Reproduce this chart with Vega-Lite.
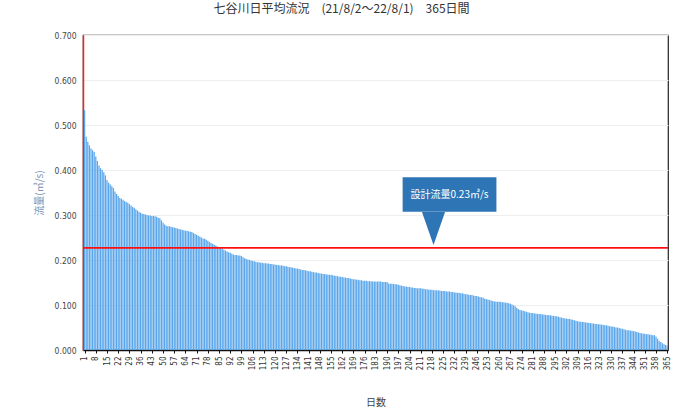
{
"$schema": "https://vega.github.io/schema/vega-lite/v6.json",
"width": 585,
"height": 315,
"autosize": "none",
"padding": {"left": 83, "top": 35, "right": 16, "bottom": 64},
"background": "white",
"config": {"view": {"stroke": "#222222", "strokeWidth": 1.2}},
"title": {"text": "七谷川日平均流況　(21/8/2～22/8/1)　365日間", "font": "Noto Sans CJK JP", "fontSize": 12, "fontWeight": "normal", "color": "#333333", "offset": 15, "dx": -34, "anchor": "middle"},
"datasets": {
"flow": [
{"day":1,"flow":0.533},{"day":2,"flow":0.474},{"day":3,"flow":0.463},{"day":4,"flow":0.455},{"day":5,"flow":0.448},{"day":6,"flow":0.444},{"day":7,"flow":0.440},{"day":8,"flow":0.430},{"day":9,"flow":0.420},{"day":10,"flow":0.410},
{"day":11,"flow":0.404},{"day":12,"flow":0.400},{"day":13,"flow":0.395},{"day":14,"flow":0.388},{"day":15,"flow":0.378},{"day":16,"flow":0.372},{"day":17,"flow":0.368},{"day":18,"flow":0.364},{"day":19,"flow":0.360},{"day":20,"flow":0.352},
{"day":21,"flow":0.347},{"day":22,"flow":0.342},{"day":23,"flow":0.338},{"day":24,"flow":0.336},{"day":25,"flow":0.334},{"day":26,"flow":0.331},{"day":27,"flow":0.329},{"day":28,"flow":0.327},{"day":29,"flow":0.324},{"day":30,"flow":0.321},
{"day":31,"flow":0.318},{"day":32,"flow":0.316},{"day":33,"flow":0.313},{"day":34,"flow":0.310},{"day":35,"flow":0.307},{"day":36,"flow":0.305},{"day":37,"flow":0.303},{"day":38,"flow":0.302},{"day":39,"flow":0.301},{"day":40,"flow":0.300},
{"day":41,"flow":0.299},{"day":42,"flow":0.299},{"day":43,"flow":0.298},{"day":44,"flow":0.298},{"day":45,"flow":0.297},{"day":46,"flow":0.296},{"day":47,"flow":0.294},{"day":48,"flow":0.293},{"day":49,"flow":0.288},{"day":50,"flow":0.283},
{"day":51,"flow":0.279},{"day":52,"flow":0.276},{"day":53,"flow":0.275},{"day":54,"flow":0.275},{"day":55,"flow":0.274},{"day":56,"flow":0.273},{"day":57,"flow":0.272},{"day":58,"flow":0.271},{"day":59,"flow":0.270},{"day":60,"flow":0.269},
{"day":61,"flow":0.268},{"day":62,"flow":0.267},{"day":63,"flow":0.266},{"day":64,"flow":0.265},{"day":65,"flow":0.265},{"day":66,"flow":0.264},{"day":67,"flow":0.263},{"day":68,"flow":0.262},{"day":69,"flow":0.260},{"day":70,"flow":0.258},
{"day":71,"flow":0.256},{"day":72,"flow":0.254},{"day":73,"flow":0.252},{"day":74,"flow":0.250},{"day":75,"flow":0.248},{"day":76,"flow":0.247},{"day":77,"flow":0.245},{"day":78,"flow":0.243},{"day":79,"flow":0.240},{"day":80,"flow":0.238},
{"day":81,"flow":0.236},{"day":82,"flow":0.234},{"day":83,"flow":0.232},{"day":84,"flow":0.230},{"day":85,"flow":0.229},{"day":86,"flow":0.227},{"day":87,"flow":0.225},{"day":88,"flow":0.223},{"day":89,"flow":0.221},{"day":90,"flow":0.219},
{"day":91,"flow":0.217},{"day":92,"flow":0.216},{"day":93,"flow":0.214},{"day":94,"flow":0.212},{"day":95,"flow":0.211},{"day":96,"flow":0.211},{"day":97,"flow":0.210},{"day":98,"flow":0.210},{"day":99,"flow":0.209},{"day":100,"flow":0.206},
{"day":101,"flow":0.204},{"day":102,"flow":0.202},{"day":103,"flow":0.201},{"day":104,"flow":0.200},{"day":105,"flow":0.199},{"day":106,"flow":0.198},{"day":107,"flow":0.197},{"day":108,"flow":0.196},{"day":109,"flow":0.195},{"day":110,"flow":0.195},
{"day":111,"flow":0.194},{"day":112,"flow":0.194},{"day":113,"flow":0.193},{"day":114,"flow":0.193},{"day":115,"flow":0.192},{"day":116,"flow":0.192},{"day":117,"flow":0.191},{"day":118,"flow":0.191},{"day":119,"flow":0.190},{"day":120,"flow":0.190},
{"day":121,"flow":0.189},{"day":122,"flow":0.189},{"day":123,"flow":0.188},{"day":124,"flow":0.188},{"day":125,"flow":0.187},{"day":126,"flow":0.186},{"day":127,"flow":0.186},{"day":128,"flow":0.185},{"day":129,"flow":0.184},{"day":130,"flow":0.184},
{"day":131,"flow":0.183},{"day":132,"flow":0.182},{"day":133,"flow":0.181},{"day":134,"flow":0.181},{"day":135,"flow":0.180},{"day":136,"flow":0.179},{"day":137,"flow":0.178},{"day":138,"flow":0.178},{"day":139,"flow":0.177},{"day":140,"flow":0.176},
{"day":141,"flow":0.175},{"day":142,"flow":0.175},{"day":143,"flow":0.174},{"day":144,"flow":0.173},{"day":145,"flow":0.172},{"day":146,"flow":0.172},{"day":147,"flow":0.171},{"day":148,"flow":0.170},{"day":149,"flow":0.170},{"day":150,"flow":0.169},
{"day":151,"flow":0.169},{"day":152,"flow":0.168},{"day":153,"flow":0.168},{"day":154,"flow":0.167},{"day":155,"flow":0.167},{"day":156,"flow":0.166},{"day":157,"flow":0.165},{"day":158,"flow":0.165},{"day":159,"flow":0.164},{"day":160,"flow":0.163},
{"day":161,"flow":0.163},{"day":162,"flow":0.162},{"day":163,"flow":0.161},{"day":164,"flow":0.161},{"day":165,"flow":0.160},{"day":166,"flow":0.160},{"day":167,"flow":0.159},{"day":168,"flow":0.158},{"day":169,"flow":0.157},{"day":170,"flow":0.157},
{"day":171,"flow":0.156},{"day":172,"flow":0.156},{"day":173,"flow":0.155},{"day":174,"flow":0.155},{"day":175,"flow":0.154},{"day":176,"flow":0.154},{"day":177,"flow":0.154},{"day":178,"flow":0.153},{"day":179,"flow":0.153},{"day":180,"flow":0.153},
{"day":181,"flow":0.152},{"day":182,"flow":0.152},{"day":183,"flow":0.152},{"day":184,"flow":0.152},{"day":185,"flow":0.152},{"day":186,"flow":0.152},{"day":187,"flow":0.151},{"day":188,"flow":0.151},{"day":189,"flow":0.151},{"day":190,"flow":0.151},
{"day":191,"flow":0.148},{"day":192,"flow":0.147},{"day":193,"flow":0.147},{"day":194,"flow":0.147},{"day":195,"flow":0.146},{"day":196,"flow":0.146},{"day":197,"flow":0.145},{"day":198,"flow":0.144},{"day":199,"flow":0.143},{"day":200,"flow":0.142},
{"day":201,"flow":0.141},{"day":202,"flow":0.141},{"day":203,"flow":0.140},{"day":204,"flow":0.140},{"day":205,"flow":0.139},{"day":206,"flow":0.139},{"day":207,"flow":0.138},{"day":208,"flow":0.138},{"day":209,"flow":0.137},{"day":210,"flow":0.137},
{"day":211,"flow":0.137},{"day":212,"flow":0.136},{"day":213,"flow":0.136},{"day":214,"flow":0.135},{"day":215,"flow":0.135},{"day":216,"flow":0.134},{"day":217,"flow":0.134},{"day":218,"flow":0.134},{"day":219,"flow":0.133},{"day":220,"flow":0.133},
{"day":221,"flow":0.133},{"day":222,"flow":0.132},{"day":223,"flow":0.132},{"day":224,"flow":0.131},{"day":225,"flow":0.131},{"day":226,"flow":0.131},{"day":227,"flow":0.130},{"day":228,"flow":0.130},{"day":229,"flow":0.130},{"day":230,"flow":0.129},
{"day":231,"flow":0.129},{"day":232,"flow":0.128},{"day":233,"flow":0.128},{"day":234,"flow":0.127},{"day":235,"flow":0.127},{"day":236,"flow":0.126},{"day":237,"flow":0.126},{"day":238,"flow":0.125},{"day":239,"flow":0.124},{"day":240,"flow":0.124},
{"day":241,"flow":0.123},{"day":242,"flow":0.122},{"day":243,"flow":0.122},{"day":244,"flow":0.121},{"day":245,"flow":0.120},{"day":246,"flow":0.120},{"day":247,"flow":0.119},{"day":248,"flow":0.118},{"day":249,"flow":0.117},{"day":250,"flow":0.116},
{"day":251,"flow":0.114},{"day":252,"flow":0.113},{"day":253,"flow":0.112},{"day":254,"flow":0.111},{"day":255,"flow":0.110},{"day":256,"flow":0.109},{"day":257,"flow":0.108},{"day":258,"flow":0.108},{"day":259,"flow":0.107},{"day":260,"flow":0.107},
{"day":261,"flow":0.107},{"day":262,"flow":0.106},{"day":263,"flow":0.106},{"day":264,"flow":0.105},{"day":265,"flow":0.105},{"day":266,"flow":0.104},{"day":267,"flow":0.103},{"day":268,"flow":0.101},{"day":269,"flow":0.099},{"day":270,"flow":0.097},
{"day":271,"flow":0.094},{"day":272,"flow":0.091},{"day":273,"flow":0.089},{"day":274,"flow":0.088},{"day":275,"flow":0.087},{"day":276,"flow":0.086},{"day":277,"flow":0.085},{"day":278,"flow":0.084},{"day":279,"flow":0.083},{"day":280,"flow":0.082},
{"day":281,"flow":0.082},{"day":282,"flow":0.081},{"day":283,"flow":0.081},{"day":284,"flow":0.080},{"day":285,"flow":0.080},{"day":286,"flow":0.080},{"day":287,"flow":0.079},{"day":288,"flow":0.079},{"day":289,"flow":0.078},{"day":290,"flow":0.078},
{"day":291,"flow":0.077},{"day":292,"flow":0.077},{"day":293,"flow":0.076},{"day":294,"flow":0.076},{"day":295,"flow":0.075},{"day":296,"flow":0.075},{"day":297,"flow":0.074},{"day":298,"flow":0.073},{"day":299,"flow":0.072},{"day":300,"flow":0.071},
{"day":301,"flow":0.070},{"day":302,"flow":0.070},{"day":303,"flow":0.069},{"day":304,"flow":0.069},{"day":305,"flow":0.068},{"day":306,"flow":0.067},{"day":307,"flow":0.066},{"day":308,"flow":0.065},{"day":309,"flow":0.064},{"day":310,"flow":0.063},
{"day":311,"flow":0.063},{"day":312,"flow":0.062},{"day":313,"flow":0.062},{"day":314,"flow":0.061},{"day":315,"flow":0.061},{"day":316,"flow":0.060},{"day":317,"flow":0.060},{"day":318,"flow":0.059},{"day":319,"flow":0.059},{"day":320,"flow":0.058},
{"day":321,"flow":0.058},{"day":322,"flow":0.057},{"day":323,"flow":0.057},{"day":324,"flow":0.056},{"day":325,"flow":0.056},{"day":326,"flow":0.055},{"day":327,"flow":0.055},{"day":328,"flow":0.054},{"day":329,"flow":0.053},{"day":330,"flow":0.052},
{"day":331,"flow":0.052},{"day":332,"flow":0.051},{"day":333,"flow":0.050},{"day":334,"flow":0.050},{"day":335,"flow":0.049},{"day":336,"flow":0.048},{"day":337,"flow":0.047},{"day":338,"flow":0.046},{"day":339,"flow":0.045},{"day":340,"flow":0.044},
{"day":341,"flow":0.044},{"day":342,"flow":0.043},{"day":343,"flow":0.043},{"day":344,"flow":0.042},{"day":345,"flow":0.041},{"day":346,"flow":0.040},{"day":347,"flow":0.039},{"day":348,"flow":0.038},{"day":349,"flow":0.037},{"day":350,"flow":0.036},
{"day":351,"flow":0.036},{"day":352,"flow":0.035},{"day":353,"flow":0.035},{"day":354,"flow":0.034},{"day":355,"flow":0.034},{"day":356,"flow":0.033},{"day":357,"flow":0.033},{"day":358,"flow":0.030},{"day":359,"flow":0.025},{"day":360,"flow":0.020},
{"day":361,"flow":0.018},{"day":362,"flow":0.015},{"day":363,"flow":0.013},{"day":364,"flow":0.011},{"day":365,"flow":0.010}
]
},
"layer": [
{
"data": {"name": "flow"},
"mark": {"type": "bar", "size": 1.25, "color": "#5aa6ea"},
"encoding": {
"x": {"field": "day", "type": "quantitative",
"scale": {"domain": [0, 365.5], "nice": false, "zero": false, "padding": 0},
"axis": {"values": [1,8,15,22,29,36,43,50,57,64,71,78,85,92,99,106,113,120,127,134,141,148,155,162,169,176,183,190,197,204,211,218,225,232,239,246,253,260,267,274,281,288,295,302,309,316,323,330,337,344,351,358,365],
"tickCount": 400,
"labelAngle": -90, "labelFontSize": 8, "labelFont": "DejaVu Sans Condensed, Liberation Sans, sans-serif", "labelColor": "#333333", "labelPadding": 3, "labelOverlap": false, "labelBound": false, "labelFlush": false,
"grid": false, "domainColor": "#111111", "domainWidth": 1.5, "tickColor": "#111111", "tickSize": 3,
"title": "日数", "titleFont": "Noto Sans CJK JP", "titleFontSize": 10, "titleFontWeight": "normal", "titleColor": "#444444", "titlePadding": 28}},
"y": {"field": "flow", "type": "quantitative",
"scale": {"domain": [0, 0.7], "nice": false},
"axis": {"values": [0,0.1,0.2,0.3,0.4,0.5,0.6,0.7], "format": ".3f",
"labelFontSize": 8.5, "labelFont": "DejaVu Sans Condensed, Liberation Sans, sans-serif", "labelColor": "#444444", "ticks": false, "labelPadding": 7,
"domainColor": "#ff2020", "domainWidth": 1.5, "grid": true, "gridColor": "#eeeeee",
"title": "流量(㎥/s)", "titleFont": "Noto Sans CJK JP", "titleFontSize": 10, "titleFontWeight": "normal", "titleColor": "#7a93b3", "titlePadding": 10}}
}
},
{
"data": {"values": [{"flow": 0.227}]},
"mark": {"type": "rule", "color": "#ff1010", "strokeWidth": 1.6},
"encoding": {"y": {"field": "flow", "type": "quantitative"}}
},
{
"data": {"values": [{}]},
"mark": {"type": "rect", "color": "#2e75b6"},
"encoding": {
"x": {"datum": 199.7, "type": "quantitative"},
"x2": {"datum": 258.3},
"y": {"datum": 0.384, "type": "quantitative"},
"y2": {"datum": 0.307}
}
},
{
"data": {"values": [{}]},
"mark": {"type": "point", "shape": "M-0.7,-1L0.7,-1L0,1Z", "filled": true, "color": "#2e75b6", "size": 1089, "opacity": 1, "strokeWidth": 0},
"encoding": {
"x": {"datum": 219, "type": "quantitative"},
"y": {"datum": 0.27, "type": "quantitative"}
}
},
{
"data": {"values": [{}]},
"mark": {"type": "text", "color": "white", "fontSize": 10, "font": "Noto Sans CJK JP"},
"encoding": {
"x": {"datum": 229, "type": "quantitative"},
"y": {"datum": 0.345, "type": "quantitative"},
"text": {"value": "設計流量0.23㎥/s"}
}
}
]
}
